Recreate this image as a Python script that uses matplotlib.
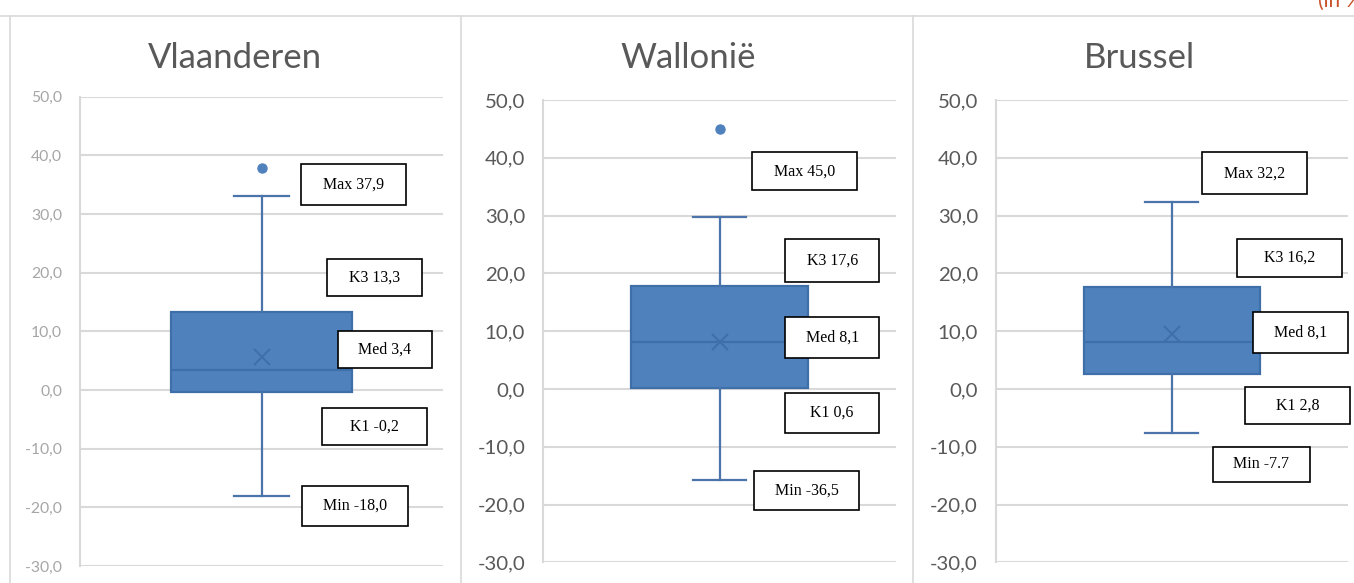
import matplotlib
matplotlib.use('Agg')
import matplotlib.pyplot as plt
from matplotlib.patches import Rectangle
from matplotlib.lines import Line2D

# ---------------- data ----------------
regions = ['Vlaanderen', 'Wallonië', 'Brussel']
whisker_low = [-18.0, -15.7, -7.6]
quartile1 = [-0.3, 0.1, 2.6]
medians = [3.4, 8.1, 8.1]
quartile3 = [13.3, 17.8, 17.7]
whisker_high = [33.1, 29.8, 32.3]
means = [5.6, 8.1, 9.5]
outliers = [[37.9], [45.0], []]

label_names = ['Max', 'K3', 'Med', 'K1', 'Min']
label_values = [
    ['37,9', '13,3', '3,4', '-0,2', '-18,0'],
    ['45,0', '17,6', '8,1', '0,6', '-36,5'],
    ['32,2', '16,2', '8,1', '2,8', '-7.7'],
]
yticks = [-30, -20, -10, 0, 10, 20, 30, 40, 50]

# ---------------- layout (pixels, top-left origin) ----------------
W, H = 1354, 583
axes_px = [(80, 96.7, 443, 566), (543.3, 100, 896, 562.3), (996, 100, 1347.7, 562.3)]
title_px = [(235, 68), (688, 68), (1139, 68)]
tick_style = [dict(size=11.3, color='#A6A6A6'), dict(size=14.7, color='#595959'),
              dict(size=14.7, color='#595959')]
label_boxes_px = [
    [(301, 164, 406, 204.7), (326.7, 259.3, 422, 296.3), (338, 330.7, 431.7, 367.7),
     (321.7, 407.7, 427, 445), (302.3, 485.7, 407.7, 525.7)],
    [(752.3, 152.3, 857.3, 190.3), (785.3, 238.7, 879, 282), (785.3, 316.7, 879, 358.3),
     (785.3, 393, 879, 432.7), (754.3, 471, 859.3, 510)],
    [(1202.3, 152.3, 1307.3, 194), (1236.7, 238.7, 1342.3, 277.3), (1253.3, 312.3, 1348, 353.3),
     (1245, 386.7, 1350, 424.3), (1212.7, 446.7, 1310, 482.3)],
]

box_face = '#4F81BD'
box_edge = '#3E6FA8'
line_col = '#4A74AA'
grid_col = '#D9D9D9'

fig = plt.figure(figsize=(W / 100, H / 100), dpi=100)

def fx(x):
    return x / W

def fy(y):
    return 1 - y / H

for i, name in enumerate(regions):
    x0, y0, x1, y1 = axes_px[i]
    ax = fig.add_axes([fx(x0), fy(y1), fx(x1) - fx(x0), fy(y0) - fy(y1)])
    stats = [dict(whislo=whisker_low[i], q1=quartile1[i], med=medians[i], q3=quartile3[i],
                  whishi=whisker_high[i], mean=means[i], fliers=outliers[i])]
    ax.bxp(stats, positions=[0.5], widths=0.5, capwidths=0.15, showmeans=True,
           patch_artist=True,
           boxprops=dict(facecolor=box_face, edgecolor=box_edge, linewidth=1.6),
           medianprops=dict(color=box_edge, linewidth=1.6),
           whiskerprops=dict(color=line_col, linewidth=1.6),
           capprops=dict(color=line_col, linewidth=1.6),
           meanprops=dict(marker='x', markeredgecolor='#3E6FA8', markersize=12,
                          markeredgewidth=1.4),
           flierprops=dict(marker='o', markerfacecolor=box_face, markeredgecolor=box_face,
                           markersize=6.5))
    ax.set_xlim(0, 1)
    ax.set_ylim(-30, 50)
    ax.set_yticks(yticks)
    ax.set_yticklabels([f'{v:.1f}'.replace('.', ',') for v in yticks],
                       fontfamily='Lato', fontsize=tick_style[i]['size'],
                       color=tick_style[i]['color'])
    ax.tick_params(axis='y', length=0, pad=13)
    ax.set_xticks([])
    ax.grid(axis='y', color=grid_col, linewidth=1.5)
    ax.set_axisbelow(True)
    for s in ['top', 'right', 'bottom']:
        ax.spines[s].set_visible(False)
    ax.spines['left'].set_color(grid_col)
    ax.spines['left'].set_linewidth(1.5)
    ax.patch.set_alpha(0)

    tx, ty = title_px[i]
    fig.text(fx(tx), fy(ty), name, ha='center', va='baseline', fontsize=25,
             fontfamily='Lato', fontweight='normal', color='#595959')

    for (bx0, by0, bx1, by1), nm, val in zip(label_boxes_px[i], label_names, label_values[i]):
        rect = Rectangle((fx(bx0), fy(by1)), fx(bx1) - fx(bx0), fy(by0) - fy(by1),
                         transform=fig.transFigure, facecolor='white', edgecolor='black',
                         linewidth=1.2, zorder=5)
        fig.add_artist(rect)
        fig.text(fx((bx0 + bx1) / 2), fy((by0 + by1) / 2), f'{nm} {val}', ha='center',
                 va='center', fontsize=11.5, fontfamily='Liberation Serif', color='black',
                 zorder=6)

# frame lines between panels
fig.add_artist(Line2D([0, 1], [fy(16), fy(16)], transform=fig.transFigure, color=grid_col,
                      linewidth=1.2))
for xs in [10, 461, 913]:
    fig.add_artist(Line2D([fx(xs), fx(xs)], [fy(16), 0], transform=fig.transFigure,
                          color=grid_col, linewidth=1.2))

fig.text(fx(1318), fy(7), '(in %)', ha='left', va='baseline', fontsize=15,
         fontfamily='Lato', color='#C9522A')

fig.savefig('out.png', dpi=100)
